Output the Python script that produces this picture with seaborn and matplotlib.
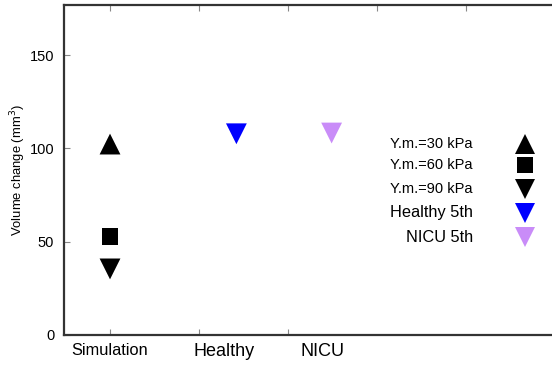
import matplotlib
matplotlib.use("Agg")
import matplotlib.pyplot as plt
import seaborn as sns
import pandas as pd

# ---- data ----
series = ["Y.m.=30 kPa", "Y.m.=60 kPa", "Y.m.=90 kPa", "Healthy 5th", "NICU 5th"]
values = [102.3, 52.7, 35.4, 107.8, 108.2]
x_pos = [1.0, 1.0, 1.0, 2.42, 3.49]
groups = ["Simulation", "Healthy", "NICU"]
group_label_pos = [1.0, 2.28, 3.39]
yticks = [0, 50, 100, 150]
markers = ["^", "s", "v", "v", "v"]
colors = ["#000000", "#000000", "#000000", "#0000ff", "#c98cf8"]
msizes = [15, 12, 15, 15, 15]

df = pd.DataFrame({"series": series, "value": values, "x": x_pos})

sns.set_style("white")
plt.rcParams["font.family"] = ["Liberation Sans", "DejaVu Sans"]
plt.rcParams["text.color"] = "black"
plt.rcParams["axes.labelcolor"] = "black"
plt.rcParams["xtick.labelcolor"] = "black"
plt.rcParams["ytick.labelcolor"] = "black"

fig = plt.figure(figsize=(5.52, 3.66), dpi=100)
ax = fig.add_axes([64 / 552, 31 / 366, (590 - 64) / 552, 330 / 366])

sns.scatterplot(
    data=df, x="x", y="value", hue="series", style="series",
    palette=dict(zip(series, colors)),
    markers=dict(zip(series, markers)),
    size="series", sizes={s: m ** 2 for s, m in zip(series, msizes)},
    edgecolor="none", linewidth=0, legend=False, ax=ax, zorder=3,
)

ax.set_xlim(0.483, 1 + (590 - 110) / 89)
ax.set_ylim(0, 176.8)
ax.set_xlabel("")
ax.set_ylabel("Volume change (mm$^3$)", fontsize=9.4, labelpad=1)

ax.set_yticks(yticks)
ax.set_yticklabels([str(t) for t in yticks], fontsize=10.5)
ax.tick_params(axis="y", direction="in", length=4, width=0.8, color="#888888",
               labelcolor="black", pad=7, left=True)

ax.xaxis.remove_overlapping_locs = False
ax.set_xticks([1, 2, 3])
ax.set_xticklabels([])
ax.set_xticks(group_label_pos, minor=True)
ax.set_xticklabels(groups, minor=True)
ax.tick_params(axis="x", which="major", direction="in", length=4, width=0.8, color="#888888", bottom=True)
ax.tick_params(axis="x", which="minor", length=0, pad=6, bottom=True, labelcolor="black")
for lab, fs in zip(ax.get_xticklabels(minor=True), [11.8, 13, 13]):
    lab.set_fontsize(fs)

# top ticks
sec = ax.secondary_xaxis("top")
sec.set_xticks([1, 2, 3, 4, 5])
sec.set_xticklabels([])
sec.tick_params(direction="in", length=4, width=0.8, color="#888888")
sec.spines["top"].set_visible(False)

for side in ["left", "bottom", "top"]:
    ax.spines[side].set_visible(True)
    ax.spines[side].set_linewidth(1.6)
    ax.spines[side].set_color("#333333")
ax.spines["right"].set_visible(False)

# legend (right-aligned text, markers on the right)
leg_rows_px = [144, 165, 189, 213, 237]
leg_fs = [10.5, 10.5, 10.5, 11.8, 11.8]
for s, m, c, ms, ypx, fs in zip(series, markers, colors, msizes, leg_rows_px, leg_fs):
    ya = (335 - ypx) / 330
    ax.text((473 - 64) / 526, ya, s, transform=ax.transAxes, ha="right", va="center",
            fontsize=fs, color="black")
    ax.plot([(525 - 64) / 526], [ya], marker=m, color=c, markersize=ms, linestyle="none",
            markeredgewidth=0, transform=ax.transAxes, clip_on=False)

fig.savefig("out.png", dpi=100)
